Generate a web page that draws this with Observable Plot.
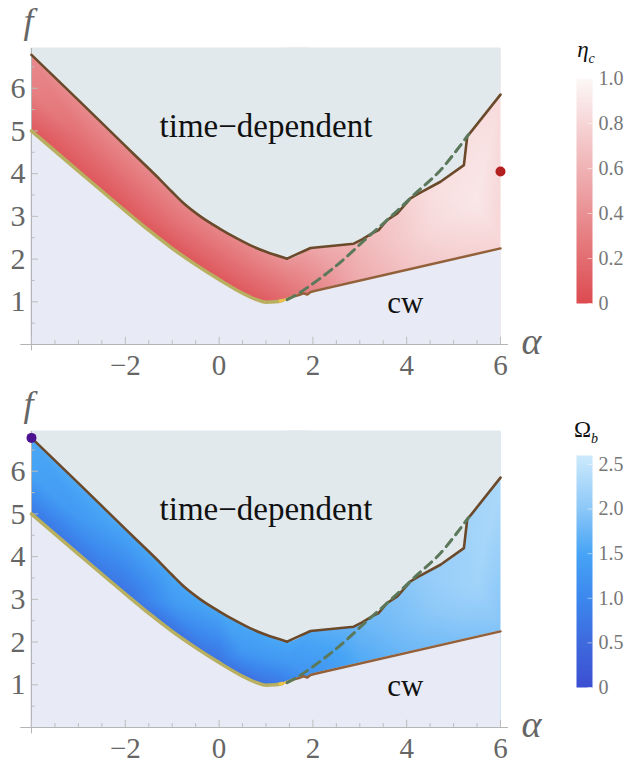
<!DOCTYPE html>
<html><head><meta charset="utf-8">
<script src="https://cdn.jsdelivr.net/npm/d3@7"></script>
<script src="https://cdn.jsdelivr.net/npm/@observablehq/plot@0.6"></script>
<style>
body{margin:0;background:#fff;}
#wrap{position:relative;width:627px;height:765px;overflow:hidden;font-family:"Liberation Serif",serif;}
#wrap svg, #wrap svg text{font-family:"Liberation Serif",serif !important;}
.abs{position:absolute;}
.cbt{position:absolute;font-family:"Liberation Serif",serif;font-size:23px;color:#111;text-align:center;width:40px;line-height:1;}
.cbt sub{font-size:14px;}
</style></head><body><div id="wrap"></div>
<script>
// ---- data ----
const upperAlpha = [-4,-3,-2,-1.5,-1.25,-1.0,-0.75,-0.4,0,0.35,0.67,1.0,1.45,1.95,2.87,3.05,3.26,3.4,3.58,3.8,4.08,4.26,4.72,5.22,5.29,5.4,6];
const upperF     = [6.78,5.72,4.65,4.12,3.85,3.57,3.3,3.0,2.72,2.5,2.32,2.17,2.01,2.26,2.36,2.46,2.6,2.68,2.91,3.07,3.42,3.54,3.81,4.2,4.87,5.02,5.85];

const yellowAlpha = [-4,-3,-2,-1.46,-1,-0.5,0,0.5,0.8,1,1.2,1.35];
const yellowF     = [5.0,4.06,3.13,2.64,2.25,1.87,1.52,1.2,1.05,0.99,1.0,1.03];

const dottedAlpha = [1.3,1.45,1.62];
const dottedF     = [1.02,1.06,1.14];

const brownLowAlpha = [1.45,1.6,1.7,1.8,1.88,1.95,2.05,6];
const brownLowF     = [1.06,1.13,1.16,1.2,1.17,1.23,1.26,2.25];

const dashAlpha = [1.45,1.7,2.45,3.16,3.72,4.15,4.72,5.32];
const dashF     = [1.05,1.2,1.8,2.5,3.05,3.5,4.08,4.92];

// field samples (alpha, f) with eta_c and Omega_b values
const sampleAlpha = [-4.1,-2,0,1,2,3,4,5,6.1,  -4.1,-2,-1,0,1.45,2,3,4,5,5.4,6.1,  -4,-3,-1,0.5,1.5,2.5,3.5,4.5,5.5,5.7,4.5];
const sampleF     = [4.9,3.0,1.45,0.9,1.15,1.4,1.65,1.9,2.15,  6.95,4.75,3.7,2.8,2.1,2.4,2.6,3.5,4.3,5.15,6.0,  5.9,4.9,2.9,1.8,1.5,1.8,2.3,2.7,3.3,4.5,3.5];
const sampleEta   = [0.05,0.05,0.06,0.08,0.3,0.55,0.68,0.75,0.78,  0.38,0.38,0.37,0.36,0.45,0.55,0.65,0.78,0.86,0.85,0.82,  0.3,0.22,0.22,0.22,0.3,0.5,0.68,0.82,0.9,0.88,0.85];
const sampleOmega = [0.6,0.6,0.6,0.55,1.2,1.55,1.75,1.85,1.9,  1.6,1.6,1.6,1.6,1.6,1.65,1.8,2.0,2.15,2.2,2.3,  1.45,1.3,1.3,1.3,1.3,1.5,1.8,2.0,2.2,2.25,2.1];

const xTicks = [-2,0,2,4,6];
const yTicks = [1,2,3,4,5,6];
const xMinor = d3.range(-4, 6.01, 0.5);
const yMinor = d3.range(0.5, 6.91, 0.5);
const etaTicks = [0,0.2,0.4,0.6,0.8,1.0];
const omegaTicks = [0,0.5,1.0,1.5,2.0,2.5];

const redDomain = [0,1], redRange = ["#dc4b50","#fdf8f8"];
const blueDomain = [0,0.5,1.0,1.5,2.0,2.6], blueRange = ["#3c4fd2","#3e6ade","#3c88ee","#47a4f5","#8cc8f8","#cdeafc"];

// ---- build ----
const serif = "Liberation Serif, serif";
const toPts = (A, F) => A.map((a, i) => ({a, f: F[i]}));
const upper = toPts(upperAlpha, upperF);
const upperLeft = upper.filter(p => p.a <= 1.45);
const upperLeftArea = upper.filter(p => p.a <= 1.95);
const upperRight = upper.filter(p => p.a >= 1.45);
const yellow = toPts(yellowAlpha, yellowF);
const dotted = toPts(dottedAlpha, dottedF);
const brownLow = toPts(brownLowAlpha, brownLowF);
const lowerLeftArea = yellow.concat(brownLow.filter(p => p.a > 1.35 && p.a <= 1.7));
const dash = toPts(dashAlpha, dashF);
const FMAX = 6.93;
const cwFill = "#e8ebf5", tdFill = "#e2e9ed";

function panel(values, color, dotPt, dotColor) {
  const samples = sampleAlpha.map((a, i) => ({a, f: sampleF[i], v: values[i]}));
  return Plot.plot({
    width: 560, height: 384, marginLeft: 31, marginRight: 60, marginTop: 48, marginBottom: 40,
    x: {domain: [-4, 6]}, y: {domain: [0, FMAX]},
    color,
    style: {fontFamily: serif, background: "transparent", overflow: "visible"},
    marks: [
      Plot.raster(samples, {x: "a", y: "f", fill: "v", interpolate: "barycentric", x1: -4, x2: 6, y1: 0, y2: FMAX}),
      Plot.areaY(brownLow, {x: "a", y1: 0, y2: "f", fill: cwFill, stroke: cwFill, strokeWidth: 1}),
      Plot.areaY(lowerLeftArea, {x: "a", y1: 0, y2: "f", fill: cwFill, stroke: cwFill, strokeWidth: 1, curve: "monotone-x"}),
      Plot.areaY(upperRight, {x: "a", y1: "f", y2: FMAX, fill: tdFill, stroke: tdFill, strokeWidth: 1}),
      Plot.areaY(upperLeftArea, {x: "a", y1: "f", y2: FMAX, fill: tdFill, stroke: tdFill, strokeWidth: 1, curve: "monotone-x"}),
      // axes lines and ticks
      Plot.ruleY([0], {x1: -4.23, x2: 6.17, stroke: "#b5b5b5", strokeWidth: 1}),
      Plot.ruleX([-4], {y1: -0.15, y2: FMAX, stroke: "#b5b5b5", strokeWidth: 1}),
      Plot.ruleX(xMinor, {y1: 0, y2: d => Number.isInteger(d / 2) ? 0.17 : 0.09, stroke: "#bdbdbd"}),
      Plot.ruleY(yMinor, {x1: -4, x2: d => Number.isInteger(d) ? -3.85 : -3.92, stroke: "#bdbdbd"}),
      Plot.axisX(xTicks, {tickSize: 0, tickPadding: 10, fontSize: 29, fill: "#666", label: null}),
      Plot.axisY(yTicks, {tickSize: 0, tickPadding: 6, fontSize: 30, fill: "#666", label: null}),
      // boundaries
      Plot.line(yellow, {x: "a", y: "f", stroke: "#b8b060", strokeWidth: 3.5, curve: "monotone-x"}),
      Plot.line(brownLow, {x: "a", y: "f", stroke: "#93603a", strokeWidth: 2.5}),
      Plot.line(dotted, {x: "a", y: "f", stroke: "#f0c24a", strokeWidth: 3, strokeDasharray: "2.5,3"}),
      Plot.line(upperLeft, {x: "a", y: "f", stroke: "#6b4a2b", strokeWidth: 2.6, curve: "monotone-x"}),
      Plot.line(upperRight, {x: "a", y: "f", stroke: "#6b4a2b", strokeWidth: 2.6, strokeLinejoin: "round"}),
      Plot.line(dash, {x: "a", y: "f", stroke: "#5b785b", strokeWidth: 3, strokeDasharray: "9,6", curve: "catmull-rom"}),
      // labels
      Plot.text(["time\u2212dependent"], {x: 1.0, y: 5.1, fontSize: 33, fill: "#111"}),
      Plot.text(["cw"], {x: 3.97, y: 0.96, fontSize: 31, fill: "#111"}),
      Plot.text(["f"], {frameAnchor: "top-left", textAnchor: "middle", lineAnchor: "middle", dx: -3, dy: -27, fontSize: 36, fontStyle: "italic", fill: "#666"}),
      Plot.text(["\u03b1"], {frameAnchor: "bottom-right", textAnchor: "middle", lineAnchor: "middle", dx: 31, dy: -3, fontSize: 38, fontStyle: "italic", fill: "#666"}),
      Plot.dot([dotPt], {x: "a", y: "f", r: 5, fill: dotColor, stroke: "none"})
    ]
  });
}

function colorbar(color, dmax, ticks, marginTop) {
  return Plot.plot({
    width: 67, height: 384, marginLeft: 16, marginRight: 35, marginTop, marginBottom: 81,
    x: {domain: [0, 1], axis: null}, y: {domain: [0, dmax]},
    color,
    style: {fontFamily: serif, background: "transparent", overflow: "visible"},
    marks: [
      Plot.raster({fill: (x, y) => y, x1: 0, x2: 1, y1: 0, y2: dmax}),
      Plot.ruleY(ticks, {x1: 0.72, x2: 1, stroke: "#ffffff", strokeOpacity: 0.5}),
      Plot.axisY(ticks, {anchor: "right", tickSize: 0, tickPadding: 6, fontSize: 20, fill: "#777", label: null,
        tickFormat: d => d === 0 ? "0" : d.toFixed(1)})
    ]
  });
}

const redColor = {type: "linear", domain: redDomain, range: redRange, clamp: true};
const blueColor = {type: "linear", domain: blueDomain, range: blueRange, clamp: true};

const wrap = document.getElementById("wrap");
function place(node, left, top) {
  node.classList.add("abs");
  node.style.left = left + "px"; node.style.top = top + "px";
  wrap.appendChild(node);
}
place(panel(sampleEta, redColor, {a: 6, f: 4.05}, "#b3201f"), 0, 0);
place(colorbar(redColor, 1, etaTicks, 78), 560, 0);
place(panel(sampleOmega, blueColor, {a: -4, f: 6.78}, "#4b1190"), 0, 383);
place(colorbar(blueColor, 2.6, omegaTicks, 71), 560, 384);

const t1 = document.createElement("div");
t1.className = "cbt"; t1.innerHTML = "<i>\u03b7</i><sub><i>c</i></sub>";
t1.style.left = "566px"; t1.style.top = "38px"; wrap.appendChild(t1);
const t2 = document.createElement("div");
t2.className = "cbt"; t2.innerHTML = "\u03a9<sub><i>b</i></sub>";
t2.style.left = "566px"; t2.style.top = "418px"; wrap.appendChild(t2);
</script></body></html>
